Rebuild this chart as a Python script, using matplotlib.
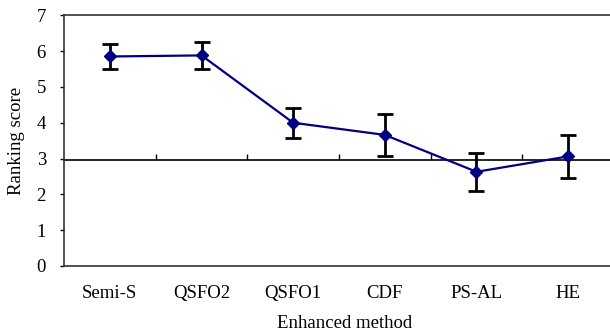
import matplotlib
matplotlib.use("Agg")
import matplotlib.pyplot as plt
import numpy as np

categories = ["Semi-S", "QSFO2", "QSFO1", "CDF", "PS-AL", "HE"]
scores = [5.85, 5.88, 4.00, 3.66, 2.63, 3.06]
errors = [0.36, 0.37, 0.42, 0.59, 0.53, 0.60]
cross_value = 2.95
y_ticks = [0, 1, 2, 3, 4, 5, 6, 7]

plt.rcParams['font.family'] = ['Liberation Serif', 'DejaVu Serif']
FS = 13.5

fig = plt.figure(figsize=(6.10, 3.32), dpi=100)
ax = fig.add_axes([64/610, 1-266/332, 550/610, (266-15.3)/332])

x = np.arange(len(categories))
ax.errorbar(x, scores, yerr=errors, fmt='none', ecolor='black', elinewidth=2,
            capsize=6, capthick=2, zorder=2)
ax.plot(x, scores, color='#000080', linewidth=1.6, marker='D', markersize=6,
        markerfacecolor='#000080', markeredgecolor='#000080', zorder=3)

ax.set_xlim(-0.5, len(categories) - 0.5)
ax.set_ylim(0, 7)
ax.set_yticks(y_ticks)
ax.set_yticklabels([str(t) for t in y_ticks], fontsize=FS)
ax.tick_params(axis='y', direction='out', length=3, width=1, pad=10)
ax.set_xticks(x)
ax.set_xticklabels(categories, fontsize=FS)
ax.tick_params(axis='x', length=0, pad=14)

for s in ['left', 'bottom', 'top', 'right']:
    ax.spines[s].set_color('#333333')
    ax.spines[s].set_linewidth(1.2)

ax.set_ylabel("Ranking score", fontsize=FS, labelpad=8)
ax.set_xlabel("Enhanced method", fontsize=FS, labelpad=9)
ax.xaxis.label.set_x(0.511)

sec = ax.secondary_xaxis(cross_value / 7.0)
sec.set_xticks(np.arange(len(categories) - 1) + 0.5)
sec.set_xticklabels([])
sec.tick_params(direction='in', length=4.5, width=1, color='black')
sec.spines['bottom'].set_color('black')
sec.spines['bottom'].set_linewidth(1.2)

fig.savefig("out.png", dpi=100)
